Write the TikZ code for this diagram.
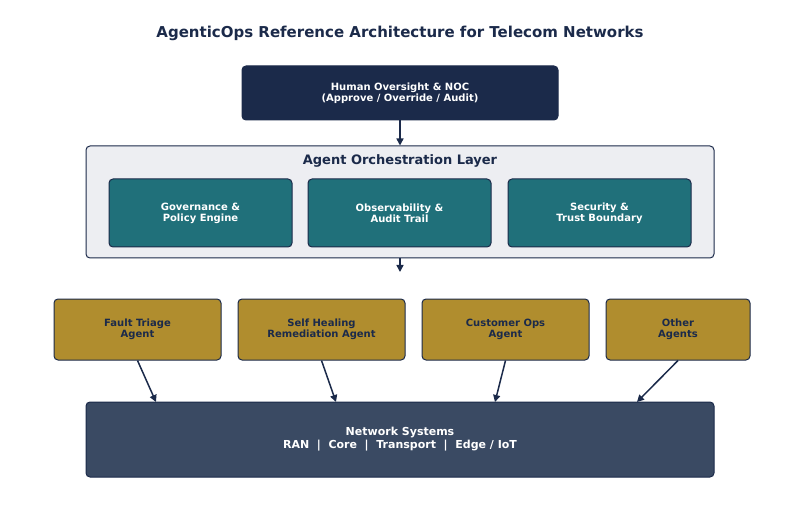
\documentclass[tikz,border=0pt]{standalone}
\usepackage{fontspec}
\setmainfont{DejaVu Sans}
\usetikzlibrary{arrows.meta}
\definecolor{navy}{HTML}{1B2A4A}
\definecolor{teal2}{HTML}{20707A}
\definecolor{gold}{HTML}{B08D2E}
\definecolor{slate}{HTML}{3A4A63}
\definecolor{layerbg}{HTML}{EDEEF2}
\tikzset{
 px/.style={x=1pt,y=-1pt},
 box/.style={draw=navy,line width=1pt,rounded corners=4pt,inner sep=0pt,align=center,font=\bfseries\fontsize{10}{11}\selectfont},
 arr/.style={-{Triangle[length=7pt,width=7pt]},line width=1.5pt,draw=navy}
}
\begin{document}
\begin{tikzpicture}[px]
\useasboundingbox (0,0) rectangle (800,529);
\node[font=\bfseries\fontsize{15}{17}\selectfont,text=navy] (title) at (400,33) {AgenticOps Reference Architecture for Telecom Networks};
\node[box,fill=navy,text=white,minimum width=316pt,minimum height=54pt] (human) at (400,93) {Human Oversight \& NOC\\(Approve / Override / Audit)};
\node[box,fill=layerbg,minimum width=628pt,minimum height=112pt] (layer) at (400,202) {};
\node[font=\bfseries\fontsize{13}{15}\selectfont,text=navy] (lt) at (400,161) {Agent Orchestration Layer};
\foreach \n/\x/\t in {gov/200.5/{Governance \&\\Policy Engine},obs/399.5/{Observability \&\\Audit Trail},sec/599.5/{Security \&\\Trust Boundary}}
 \node[box,fill=teal2,text=white,minimum width=183pt,minimum height=68pt] (\n) at (\x,213) {\t};
\foreach \n/\x/\w/\t in {a1/137.5/167/{Fault Triage\\Agent},a2/321.5/167/{Self Healing\\Remediation Agent},a3/505.5/167/{Customer Ops\\Agent},a4/678/144/{Other\\Agents}}
 \node[box,fill=gold,text=navy,minimum width=\w pt,minimum height=61pt] (\n) at (\x,329.5) {\t};
\node[box,fill=slate,text=white,minimum width=628pt,minimum height=75pt,font=\bfseries\fontsize{11}{13}\selectfont] (net) at (400,439.5) {Network Systems\\RAN~~|~~Core~~|~~Transport~~|~~Edge / IoT};
\coordinate (c1) at (400,272);
\draw[arr] (human) -- (layer);
\draw[arr] (layer.south) -- (c1);
\draw[arr] (a1.south) -- (156,402);
\draw[arr] (a2.south) -- (336,402);
\draw[arr] (a3.south) -- (495,402);
\draw[arr] (a4.south) -- (637,402);
\end{tikzpicture}
\end{document}
